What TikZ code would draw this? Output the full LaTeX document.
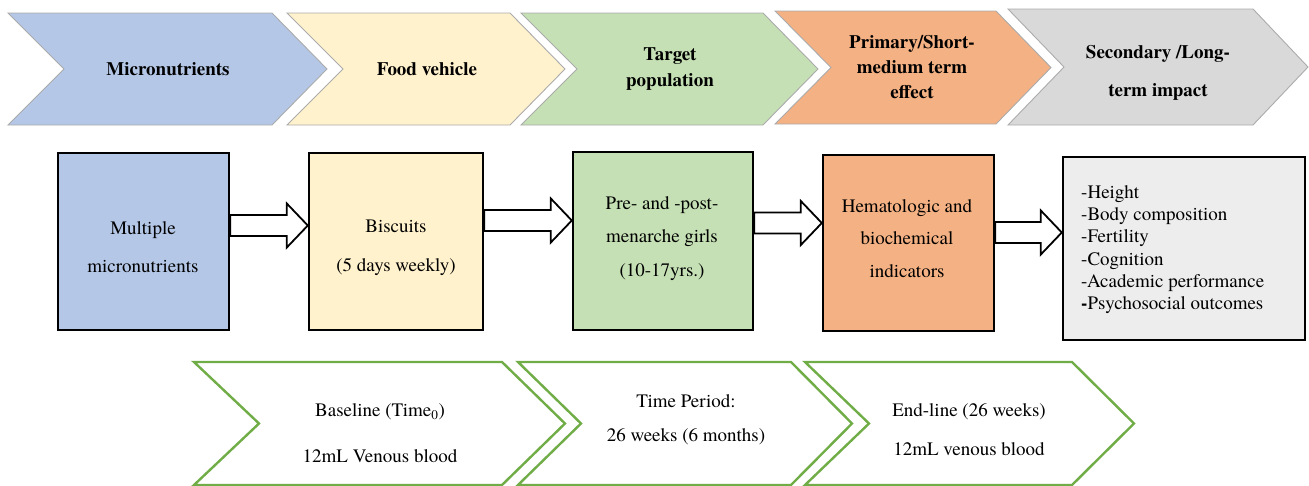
\documentclass[tikz,border=0pt]{standalone}
\usepackage{fontspec}
\setmainfont{texgyretermes}[Extension=.otf, UprightFont=*-regular, BoldFont=*-bold,
  ItalicFont=*-italic, BoldItalicFont=*-bolditalic]
\usetikzlibrary{calc}
\definecolor{blueA}{HTML}{B4C7E7}
\definecolor{yellowA}{HTML}{FFF2CC}
\definecolor{greenA}{HTML}{C5E0B4}
\definecolor{orangeA}{HTML}{F4B183}
\definecolor{greyA}{HTML}{D9D9D9}
\definecolor{greyB}{HTML}{EDEDED}
\definecolor{greenline}{HTML}{70AD47}
\definecolor{chevline}{HTML}{ABABAB}

\begin{document}
\begin{tikzpicture}[x=1pt,y=-1pt,
    headchev/.style={draw=chevline, line width=0.9pt, line join=miter},
    timechev/.style={draw=greenline, line width=2.4pt, fill=white, line join=miter},
    box/.style={draw=black, line width=2.4pt, inner sep=0pt},
    head/.style={font=\fontsize{19}{#1}\selectfont\bfseries, align=center, inner sep=0pt},
    head/.default=23,
    txt/.style={font=\fontsize{19}{#1}\selectfont, align=center, inner sep=0pt},
    txt/.default=23,
    blockarr/.style={draw=black, line width=1.8pt, fill=white, line join=miter,
      to path={let \p1=(\tikztostart), \p2=(\tikztotarget) in
        (\x1,\y1+10.5pt) -- (\x2-21pt,\y1+10.5pt) -- (\x2-21pt,\y1+22pt) -- (\x2,\y1)
        -- (\x2-21pt,\y1-22pt) -- (\x2-21pt,\y1-10.5pt) -- (\x1,\y1-10.5pt) -- cycle}}]
  \useasboundingbox (0,0) rectangle (1309,485);

  % top row of chevrons
  \foreach \l/\r/\t/\b/\c in {8/327/13/125/blueA, 287/565/13/125/yellowA,
      521/818/13/125/greenA, 775/1051/11/124/orangeA, 1008/1308/9/125/greyA}
    \draw[headchev, fill=\c] (\l,\t) -- ({\r-55},\t) -- (\r,{(\t+\b)/2})
      -- ({\r-55},\b) -- (\l,\b) -- ({\l+56},{(\t+\b)/2}) -- cycle;
  \node[head] (h1) at (168,69) {Micronutrients};
  \node[head] (h2) at (427,69) {Food vehicle};
  \node[head=26] (h3) at (670,69) {Target\\population};
  \node[head=25] (h4) at (912,67) {Primary/Short-\\medium term\\effect};
  \node[head=38] (h5) at (1158,73) {Secondary /Long-\\term impact};

  % boxes
  \node[box, fill=blueA, minimum width=171pt, minimum height=177pt] (b1) at (143.5,241.5) {};
  \node[box, fill=yellowA, minimum width=174pt, minimum height=177pt] (b2) at (396,241.5) {};
  \node[box, fill=greenA, minimum width=180pt, minimum height=178pt] (b3) at (663,241) {};
  \node[box, fill=orangeA, minimum width=171pt, minimum height=176pt] (b4) at (908.5,243) {};
  \node[box, fill=greyB, minimum width=242pt, minimum height=183pt] (b5) at (1184,248.5) {};
  \node[txt=38] (b1t) at (143,247) {Multiple\\micronutrients};
  \node[txt=39] (b2t) at (396,247.5) {Biscuits\\(5 days weekly)};
  \node[txt=33.5] (b3t) at (662,238.5) {Pre- and -post-\\menarche girls\\(10-17yrs.)};
  \node[txt=32.5] (b4t) at (907,238.5) {Hematologic and\\biochemical\\indicators};
  \node[txt=22.2, align=left, anchor=west] (b5t) at (1081,249.5)
    {-Height\\-Body composition\\-Fertility\\-Cognition\\-Academic performance\\\textbf{-}Psychosocial outcomes};

  % block arrows
  \draw[blockarr] (b1.east |- 0,225.5) to (b2.west |- 0,225.5);
  \draw[blockarr] (b2.east |- 0,220.5) to (b3.west |- 0,220.5);
  \draw[blockarr] (b3.east |- 0,223) to (b4.west |- 0,223);
  \draw[blockarr] (b4.east |- 0,232.5) to (b5.west |- 0,232.5);

  % time line
  \foreach \l/\r/\d in {194/565/63, 518/852/61, 805/1134/62}
    \draw[timechev] (\l,362) -- ({\r-\d},362) -- (\r,423.5) -- ({\r-\d},485)
      -- (\l,485) -- ({\l+\d+2},423.5) -- cycle;
  \node[txt=46] (t1) at (380,433) {Baseline (Time\textsubscript{0})\\12mL Venous blood};
  \node[txt=34] (t2) at (686,420) {Time Period:\\26 weeks (6 months)};
  \node[txt=39] (t3) at (969,429.5) {End-line (26 weeks)\\12mL venous blood};
\end{tikzpicture}
\end{document}
